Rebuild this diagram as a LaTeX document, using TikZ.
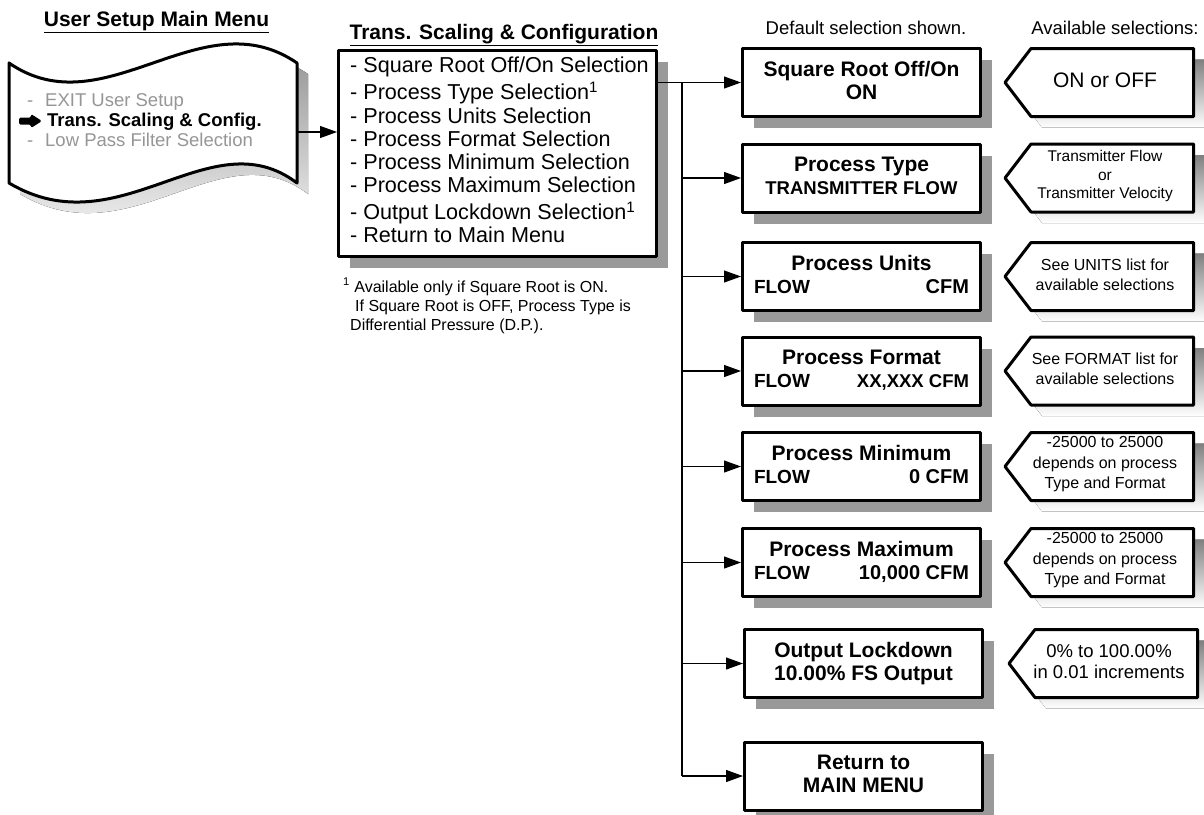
\documentclass[tikz,border=0pt]{standalone}
\usepackage{fontspec}
\setmainfont{Liberation Sans}
\usetikzlibrary{arrows.meta,calc,shadows}
\definecolor{shade}{RGB}{153,153,153}
\definecolor{dimtext}{RGB}{150,150,150}
\newcommand{\fs}[2]{\fontsize{#1}{#2}\selectfont\lineskiplimit=-50pt\relax}
\newcommand{\ptrbox}[5]{%
  \begin{scope}[shift={(#3,#2)}]
    \fill[shade,shift={(11,11)}] (1005,0) -- (1031,-34) -- (1193.5,-34) -- (1193.5,34) -- (1031,34) -- cycle;
    \draw[ptrline] (1005,0) -- (1031,-34) -- (1193.5,-34) -- (1193.5,34) -- (1031,34) -- cycle;
    \node[font=#4,align=center,inner sep=0pt] (#1) at (1105,-2) {#5};
  \end{scope}}
\begin{document}
\begin{tikzpicture}[x=1pt,y=-1pt,
  conn/.style={line width=1.1pt},
  arr/.style={line width=1.1pt,-{Triangle[length=17pt,width=12pt]}},
  shadowed/.style={drop shadow={shadow xshift=11.5pt,shadow yshift=-11.5pt,fill=shade,opacity=1}},
  selbox/.style={draw,line width=3pt,line join=round,fill=white,minimum width=238pt,minimum height=68pt,
    inner sep=0pt,align=center,text depth=4pt,font=\bfseries\fs{21}{23},shadowed},
  ptrline/.style={draw,line width=3pt,line join=round,fill=white},
  ttl/.style={font=\bfseries\fs{21}{23},inner sep=0pt},
  hdr/.style={font=\fs{18.5}{20},inner sep=0pt}]
\useasboundingbox (0,0) rectangle (1204,814);

% titles and headers
\node[ttl] (t1) at (156.5,22.5) {\underline{User Setup Main Menu}};
\node[ttl] (t2) at (504,35) {\underline{Trans. Scaling \& Configuration}};
\node[hdr] (hd1) at (866,28) {Default selection shown.};
\node[hdr] (hd2) at (1115,28) {Available selections:};

% wavy menu
\fill[shade,shift={(11,11)}] (9,63) .. controls (105,129) and (201,-3) .. (297,63) -- (297,183)
   .. controls (210,117) and (120,249) .. (9,183) -- cycle;
\draw[line width=3pt,line join=round,fill=white] (9,63) .. controls (105,129) and (201,-3) .. (297,63) -- (297,183)
   .. controls (210,117) and (120,249) .. (9,183) -- cycle;
\node[anchor=north west,inner sep=0pt,align=left,text=dimtext,font=\fs{18.5}{20}] (usm) at (27,93.5)
  {\makebox[18pt][l]{-}EXIT User Setup\\
   \hspace*{20pt}{\color{black}\bfseries Trans. Scaling \& Config.}\\
   \makebox[18pt][l]{-}Low Pass Filter Selection};
\fill[rounded corners=1.5pt] (19,117.5) -- (31,117.5) -- (31,114) -- (42,121) -- (31,128) -- (31,124.5) -- (19,124.5) -- cycle;
\coordinate (wv) at (297,132);

% middle box
\node[draw,line width=3pt,line join=round,fill=white,minimum width=318pt,minimum height=206pt,shadowed] (mid) at (497.5,153.5) {};
\node[anchor=north west,inner sep=0pt,align=left,font=\fs{21.6}{23}] (list) at (350,57)
  {- Square Root Off/On Selection\\[4pt]
   - Process Type Selection\textsuperscript{1}\\[1pt]
   - Process Units Selection\\
   - Process Format Selection\\
   - Process Minimum Selection\\
   - Process Maximum Selection\\[4pt]
   - Output Lockdown Selection\textsuperscript{1}\\
   - Return to Main Menu};
\node[anchor=north west,inner sep=0pt,align=left,font=\fs{16}{19}] (fn) at (343,278)
  {\textsuperscript{1} Available only if Square Root is ON.\\
   \hspace*{12pt}If Square Root is OFF, Process Type is\\
   \hspace*{7pt}Differential Pressure (D.P.).};

\draw[arr] (wv) -- (wv -| mid.west);

% selection boxes
\node[selbox] (b1) at (861.5,82.5) {Square Root Off/On\\ON};
\node[selbox] (b2) at (861.5,178) {Process Type\\{\fs{18.5}{23}TRANSMITTER FLOW}};
\node[selbox] (b3) at (861.5,276.5) {Process Units\\\makebox[215pt]{\fs{19}{23}FLOW\hfill\fs{20}{23}CFM}};
\node[selbox] (b4) at (861.5,371) {Process Format\\\makebox[215pt]{\fs{19}{23}FLOW\hfill\fs{18.5}{23}XX,XXX CFM}};
\node[selbox] (b5) at (861.5,466.5) {Process Minimum\\\makebox[215pt]{\fs{19}{23}FLOW\hfill\fs{20}{23}0 CFM}};
\node[selbox] (b6) at (861.5,562.5) {Process Maximum\\\makebox[215pt]{\fs{19}{23}FLOW\hfill\fs{20}{23}10,000 CFM}};
\node[selbox] (b7) at (863.5,663.5) {Output Lockdown\\10.00\% FS Output};
\node[selbox] (b8) at (863.5,776) {Return to\\MAIN MENU};

% connectors
\coordinate (j) at (682,0);
\draw[arr] (mid.east |- b1.west) -- (b1.west);
\draw[conn] (j |- b1.west) -- (j |- b8.west);
\foreach \k in {2,...,8} {\draw[arr] (j |- b\k.west) -- (b\k.west);}

% available selections
\ptrbox{p1}{82.5}{0}{\fs{21}{23}}{ON or OFF}
\ptrbox{p2}{178}{0}{\fs{15.5}{18.5}}{Transmitter Flow\\or\\Transmitter Velocity}
\ptrbox{p3}{276.5}{0}{\fs{16}{20}}{See UNITS list for\\available selections}
\ptrbox{p4}{371}{0}{\fs{16}{20}}{See FORMAT list for\\available selections}
\ptrbox{p5}{466.5}{0}{\fs{16}{20.5}}{-25000 to 25000\\depends on process\\Type and Format}
\ptrbox{p6}{562.5}{0}{\fs{16}{20.5}}{-25000 to 25000\\depends on process\\Type and Format}
\ptrbox{p7}{663.5}{4}{\fs{18.5}{21}}{0\% to 100.00\%\\in 0.01 increments}
\end{tikzpicture}
\end{document}
